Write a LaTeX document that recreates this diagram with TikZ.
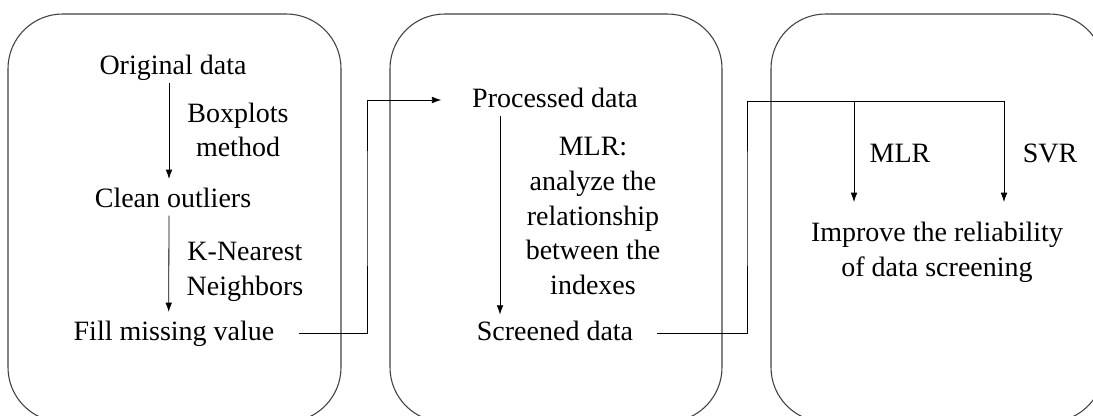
\documentclass[tikz,border=0pt]{standalone}
\usepackage{fontspec}
\setmainfont{Liberation Serif}
\usetikzlibrary{arrows.meta}

\begin{document}
\begin{tikzpicture}[x=0.75pt,y=-0.75pt,
		every node/.style={font=\fontsize{21pt}{26pt}\selectfont,inner sep=3pt},
		txt/.style={text height=0.7em,text depth=0.22em},
		note/.style={align=center},
		arr/.style={line width=0.6pt,-{Latex[length=7pt,width=5pt]}},
		stage/.style={draw=black!75,line width=0.8pt,rounded corners=41pt}]
		\useasboundingbox (0,0) rectangle (1093,415);
		% three stages
		\draw[stage] (8,14) rectangle (341,422);
		\draw[stage] (390,14) rectangle (722,422);
		\draw[stage] (771,14) rectangle (1104,422);
		% stage 1: cleaning
		\node[txt] (orig) at (173,71) {Original data};
		\node[txt] (clean) at (173,204) {Clean outliers};
		\node[txt] (fill) at (174,337) {Fill missing value};
		\node[note] (boxm) at (238,130) {Boxplots\\method};
		\node[note] (knn) at (245,272) {K-Nearest\\Neighbors};
		\draw[arr,shorten <=1pt,shorten >=11pt] ([xshift=-3pt]orig.south) -- ([xshift=-3pt]clean.north);
		\draw[arr,shorten <=1pt,shorten >=11pt] ([xshift=-3pt]clean.south) -- ([xshift=-4pt]fill.north);
		% stage 2: screening
		\node[txt] (proc) at (555,104) {Processed data};
		\node[txt] (scr) at (555,337) {Screened data};
		\node[note] (mlr) at (593,216) {MLR:\\analyze the\\relationship\\between the\\indexes};
		\draw[arr,shorten <=1pt,shorten >=9pt] (proc.south -| 500,0) -- (scr.north -| 500,0);
		% stage 3: result
		\node[note] (impr) at (937,252) {Improve the reliability\\of data screening};
		\node[txt] (mlrb) at (900,159) {MLR};
		\node[txt] (svr) at (1050,159) {SVR};
		% links between stages
		\coordinate (bendA) at (367,200);
		\coordinate (bendB) at (747,200);
		\coordinate (topL) at (854,101);
		\coordinate (topR) at (1004,101);
		\draw[arr,shorten <=15pt,shorten >=20pt] ([yshift=3pt]fill.east) -| (bendA) |- ([yshift=3pt]proc.west);
		\draw[line width=0.6pt,shorten <=15pt] ([yshift=3pt]scr.east) -| (bendB) |- (topR);
		\draw[arr] (topL) -- (854,202);
		\draw[arr] (topR) -- (1004,202);
	\end{tikzpicture}
\end{document}
